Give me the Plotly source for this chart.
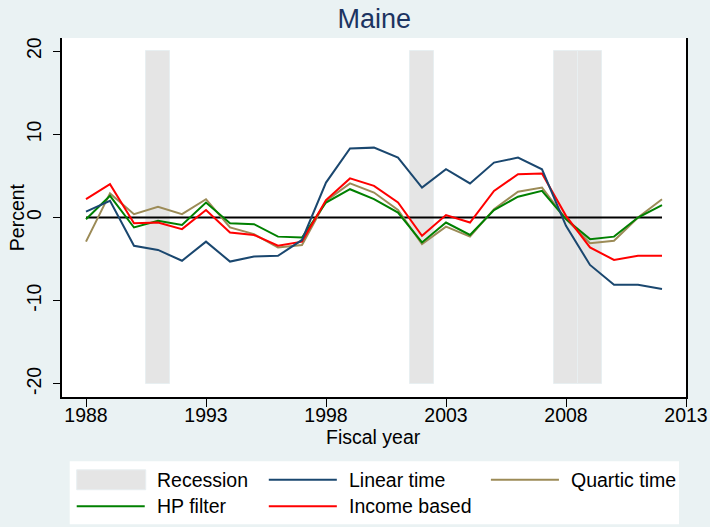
import plotly.graph_objects as go

years = list(range(1988, 2013))
linear_time = [0.7, 2.0, -3.4, -3.9, -5.2, -2.9, -5.3, -4.7, -4.6, -2.7, 4.2, 8.3, 8.4,
               7.2, 3.6, 5.8, 4.1, 6.6, 7.2, 5.8, -1.0, -5.7, -8.1, -8.1, -8.6]
quartic_time = [-2.9, 2.9, 0.4, 1.3, 0.4, 2.2, -1.2, -2.0, -3.6, -3.3, 2.0, 4.1, 3.0,
                0.9, -3.2, -1.1, -2.3, 1.0, 3.1, 3.6, -0.2, -3.1, -2.8, 0.0, 2.2]
hp_filter = [-0.2, 2.6, -1.2, -0.4, -0.9, 1.8, -0.7, -0.8, -2.3, -2.4, 1.8, 3.4, 2.2,
             0.6, -3.0, -0.6, -2.1, 0.9, 2.5, 3.2, -0.2, -2.6, -2.3, 0.0, 1.5]
income_based = [2.2, 4.0, -0.7, -0.6, -1.4, 0.9, -1.8, -2.1, -3.4, -2.9, 2.1, 4.7, 3.8,
                1.8, -2.2, 0.3, -0.6, 3.2, 5.2, 5.3, 0.2, -3.6, -5.1, -4.6, -4.6]
recession_years = [1991, 2002, 2008, 2009]
recession_low, recession_high = -20, 20
xticks = [1988, 1993, 1998, 2003, 2008, 2013]
yticks = [-20, -10, 0, 10, 20]
ytick_labels = ["-20", "-10", "0", "10", "20"]

FONT = "Liberation Sans, Arial, Helvetica, sans-serif"
NAVY = "#1a476f"
TAN = "#9c8b57"
GREEN = "#008000"
RED = "#ff0000"
REC = "#e5e5e5"
BG = "#eaf2f3"

fig = go.Figure()
fig.add_trace(go.Bar(x=recession_years, y=[recession_high - recession_low] * len(recession_years),
                     base=recession_low, width=1, marker=dict(color=REC, line=dict(color="#e8eff1", width=1)),
                     name="Recession", showlegend=False, hoverinfo="skip"))
fig.add_trace(go.Scatter(x=[years[0], years[-1]], y=[0, 0], mode="lines",
                         line=dict(color="black", width=2), showlegend=False, hoverinfo="skip"))
series = [("Quartic time", quartic_time, TAN), ("HP filter", hp_filter, GREEN),
          ("Income based", income_based, RED), ("Linear time", linear_time, NAVY)]
for name, vals, col in series:
    fig.add_trace(go.Scatter(x=years, y=vals, mode="lines", name=name,
                             line=dict(color=col, width=2), showlegend=False))

# plot area in pixels
L, R, T, B = 62.3, 686.0, 37.5, 397.5
W, H = R - L, B - T
def px(x):
    return (x - L) / W
def py(y):
    return (B - y) / H

shapes = [dict(type="rect", xref="paper", yref="paper", x0=px(70), x1=px(679), y0=py(462), y1=py(525),
               fillcolor="white", line=dict(width=0), layer="below")]
annotations = [
    dict(text="Percent", xref="paper", yref="paper", x=px(17), y=py(217.5), textangle=-90,
         xanchor="center", yanchor="middle", showarrow=False,
         font=dict(family=FONT, size=19.5, color="black")),
    dict(text="Fiscal year", xref="paper", yref="paper", x=px(374), y=py(438),
         xanchor="center", yanchor="middle", showarrow=False,
         font=dict(family=FONT, size=19.5, color="black")),
]
legend_items = [("Recession", None, 77, 480.5), ("Linear time", NAVY, 269, 480.5),
                ("Quartic time", TAN, 491, 480.5), ("HP filter", GREEN, 77, 507),
                ("Income based", RED, 269, 507)]
for label, col, x0, yc in legend_items:
    if col is None:
        shapes.append(dict(type="rect", xref="paper", yref="paper", x0=px(x0), x1=px(x0 + 69),
                           y0=py(yc + 10), y1=py(yc - 10), fillcolor=REC, line=dict(color="#e8eff1", width=1)))
    else:
        shapes.append(dict(type="line", xref="paper", yref="paper", x0=px(x0), x1=px(x0 + 68),
                           y0=py(yc), y1=py(yc), line=dict(color=col, width=2)))
    annotations.append(dict(text=label, xref="paper", yref="paper", x=px(x0 + 78), y=py(yc),
                            xanchor="left", yanchor="middle", showarrow=False,
                            font=dict(family=FONT, size=19.5, color="black")))

fig.update_layout(
    width=710, height=527,
    paper_bgcolor=BG, plot_bgcolor="white",
    margin=dict(l=L, r=710 - R, t=T, b=527 - B, autoexpand=False),
    font=dict(family=FONT, size=19.5, color="black"),
    title=dict(text="Maine", x=0.527, xanchor="center", y=0.965, yanchor="middle",
               font=dict(family=FONT, size=27, color="#1c3461")),
    bargap=0,
    shapes=shapes, annotations=annotations,
    showlegend=False,
    xaxis=dict(range=[1987, 2013], tickvals=xticks, ticks="outside", ticklen=8, tickwidth=1,
               tickcolor="black", showline=True, linecolor="black", linewidth=1.5, mirror=False,
               showgrid=False, zeroline=False, automargin=False, ticklabelstandoff=-8),
    yaxis=dict(range=[-21.58, 21.58], tickvals=yticks, ticktext=ytick_labels, ticks="outside",
               ticklen=7, tickwidth=1,
               tickcolor="black", showline=True, linecolor="black", linewidth=1.5, mirror=True,
               showgrid=False, zeroline=False, tickangle=-90, automargin=False,
               ticklabelstandoff=4),
)
fig.write_html("out.html", config={"displayModeBar": False},
               post_script="document.body.style.margin='0';document.body.style.overflow='hidden';")
